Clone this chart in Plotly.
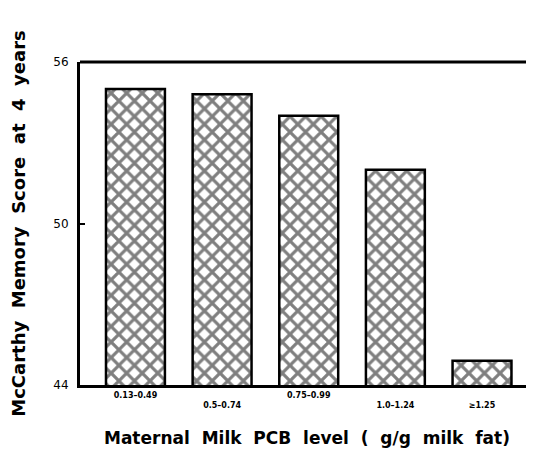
import plotly.graph_objects as go

categories = ["0.13–0.49", "0.5–0.74", "0.75–0.99", "1.0–1.24", "≥1.25"]
tick_labels = ["0.13–0.49", "<br>0.5–0.74", "0.75–0.99", "<br>1.0–1.24", " <br>≥1.25"]
scores = [55.0, 54.8, 54.0, 52.0, 44.9]
y_ticks = [44, 50, 56]

fig = go.Figure()
fig.add_trace(go.Bar(
    x=categories,
    y=scores,
    width=0.68,
    marker=dict(
        color="white",
        line=dict(color="black", width=2.5),
        pattern=dict(shape="x", size=11, solidity=0.5, fgcolor="black", bgcolor="white"),
    ),
))

fig.update_layout(
    width=526, height=449,
    margin=dict(l=72, r=0, t=54, b=72),
    plot_bgcolor="white", paper_bgcolor="white",
    showlegend=False,
    font=dict(family="DejaVu Sans", color="black"),
)
fig.update_xaxes(
    type="category",
    range=[-0.64, 4.6],
    tickmode="array", tickvals=categories, ticktext=tick_labels,
    tickfont=dict(size=8, family="DejaVu Sans", weight="bold"),
    ticks="", showline=True, linecolor="black", linewidth=3,
    showgrid=False, mirror=False,
    title=dict(text="Maternal  Milk  PCB  level  (  g/g  milk  fat)",
               font=dict(size=17, family="DejaVu Sans", weight="bold"), standoff=24),
)
fig.update_yaxes(
    range=[44, 56],
    tickmode="array", tickvals=y_ticks, ticktext=[str(v) for v in y_ticks],
    tickfont=dict(size=12, family="DejaVu Sans"),
    ticks="inside", ticklen=5, tickwidth=2, tickcolor="black",
    ticklabelstandoff=6,
    showline=True, linecolor="black", linewidth=3,
    showgrid=False, zeroline=False,
    title=dict(text="McCarthy  Memory  Score  at  4  years",
               font=dict(size=18, family="DejaVu Sans", weight="bold"), standoff=26),
)
fig.add_shape(type="line", xref="paper", yref="paper", x0=0, x1=1, y0=1, y1=1,
              line=dict(color="black", width=3))

fig.write_html("out.html")
